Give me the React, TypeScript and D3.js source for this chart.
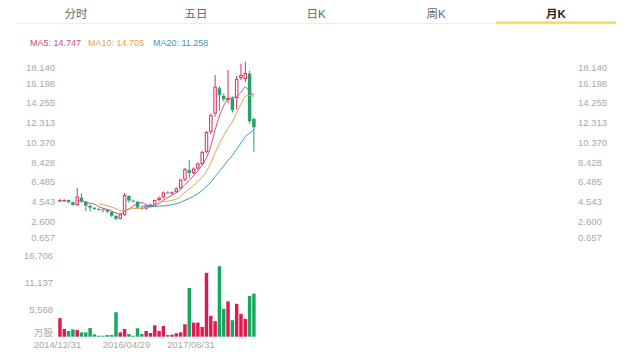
import React from 'react';
import * as d3 from 'd3';

const tabs = ['分时', '五日', '日K', '周K', '月K'];
const activeTab = 4;

const maPeriods = [5, 10, 20];
const maLabels = ['MA5: 14.747', 'MA10: 14.705', 'MA20: 11.258'];
const maColors = ['#c9507f', '#dfa64e', '#3f97c4'];

const opens = [4.62, 4.66, 4.70, 4.50, 4.20, 4.95, 4.55, 4.15, 3.95, 3.82, 3.80, 3.78, 3.55, 3.15, 2.85, 3.25, 5.10, 4.65, 4.55, 3.95, 3.85, 4.15, 4.25, 4.70, 4.95, 5.45, 5.38, 5.48, 5.85, 6.70, 7.65, 7.35, 7.80, 8.25, 9.45, 11.40, 13.20, 15.70, 14.95, 14.55, 14.70, 14.70, 16.70, 16.60, 17.15, 12.70];
const highs = [4.82, 4.78, 4.74, 4.55, 5.92, 5.37, 4.62, 4.25, 4.02, 3.90, 3.86, 3.82, 3.60, 3.25, 3.40, 5.40, 5.20, 4.75, 4.62, 4.10, 4.20, 4.35, 4.75, 5.05, 5.55, 5.55, 5.55, 5.95, 6.80, 7.85, 8.65, 7.90, 8.40, 9.55, 11.50, 13.20, 17.00, 15.90, 15.20, 17.50, 14.90, 16.90, 18.10, 18.30, 17.40, 12.80];
const lows = [4.55, 4.58, 4.40, 4.15, 4.12, 4.45, 3.60, 3.55, 3.75, 3.70, 3.50, 3.40, 3.05, 2.70, 2.80, 3.15, 4.45, 4.50, 3.85, 3.75, 3.75, 4.05, 4.15, 4.60, 4.85, 5.30, 5.30, 5.40, 5.75, 6.55, 6.85, 7.25, 7.70, 8.10, 9.30, 11.20, 12.90, 13.50, 14.40, 14.20, 13.30, 13.60, 16.50, 16.30, 12.20, 9.45];
const closes = [4.70, 4.72, 4.48, 4.22, 5.05, 4.55, 4.15, 3.95, 3.82, 3.80, 3.78, 3.55, 3.15, 2.85, 3.30, 5.20, 4.65, 4.60, 3.95, 3.85, 4.15, 4.25, 4.70, 4.95, 5.45, 5.38, 5.48, 5.85, 6.70, 7.75, 7.35, 7.80, 8.30, 9.45, 11.40, 13.05, 15.85, 15.00, 14.60, 14.75, 13.55, 16.60, 17.00, 17.20, 12.45, 11.85];
const volumes = [3780, 1580, 1170, 1510, 1370, 890, 890, 1790, 480, 200, 200, 340, 340, 5010, 890, 1580, 550, 200, 1720, 550, 1170, 760, 2330, 1170, 2200, 340, 410, 690, 890, 2540, 9960, 2880, 2880, 1990, 13050, 4260, 3160, 14420, 5700, 7210, 3370, 6730, 4670, 3640, 8310, 8790];

const priceTicks = [18.14, 16.198, 14.255, 12.313, 10.37, 8.428, 6.485, 4.543, 2.6, 0.657];
const volTicks = [16706, 11137, 5568, 0];
const volTickLabels = ['16,706', '11,137', '5,568', '万股'];
const dateIdx = [0, 16, 31];
const dateLabels = ['2014/12/31', '2016/04/29', '2017/08/31'];

const W = 640;
const H = 356;
const SLOTS = 120;
const UP = '#dd2a5a';
const DOWN = '#1fa463';
const FONT = '"Liberation Sans", Arial, "Noto Sans CJK SC", sans-serif';

export default function App() {
  const x = d3.scaleBand<number>().domain(d3.range(SLOTS)).range([57.8, 575]);
  const cx = (i: number) => (x(i) as number) + x.bandwidth() / 2;
  const bw = x.bandwidth() * 0.8;
  const y = d3.scaleLinear().domain([0.657, 18.14]).range([241.2, 63.4]);
  const yv = d3.scaleLinear().domain([0, 16706]).range([336.7, 255]);
  const tabX = d3.scaleBand<number>().domain(d3.range(tabs.length)).range([16, 616]);

  const maSeries = maPeriods.map((p) =>
    closes.map((_, i) => (i < p - 1 ? null : (d3.mean(closes.slice(i - p + 1, i + 1)) as number)))
  );
  const line = d3
    .line<number | null>()
    .defined((d) => d !== null)
    .x((_, i) => cx(i))
    .y((d) => y(d as number))
    .curve(d3.curveMonotoneX);

  const legendX = [30, 88, 153];

  return (
    <svg width={W} height={H} style={{ position: 'fixed', left: 0, top: 0, background: '#fff' }} fontFamily={FONT}>
      {tabs.map((t, i) => (
        <text
          key={t}
          x={(tabX(i) as number) + tabX.bandwidth() / 2}
          y={14}
          textAnchor="middle"
          dominantBaseline="central"
          fontSize={11.5}
          fontWeight={i === activeTab ? 700 : 400}
          fill={i === activeTab ? '#222' : '#666'}
        >
          {t}
        </text>
      ))}
      <line x1={16} x2={616} y1={23.5} y2={23.5} stroke="#eeeeee" strokeWidth={1} />
      <rect x={tabX(activeTab) as number} y={21.5} width={tabX.bandwidth()} height={2.2} fill="#f4d94e" />

      {maLabels.map((t, i) => (
        <text key={t} x={legendX[i]} y={42.5} dominantBaseline="central" fontSize={9} fill={maColors[i]}>
          {t}
        </text>
      ))}

      {priceTicks.map((v, i) => {
        const dy = i === 0 ? 4.3 : i === priceTicks.length - 1 ? -3.5 : 0;
        return (
          <g key={v}>
            <text x={55} y={y(v) + dy} textAnchor="end" dominantBaseline="central" fontSize={9.5} fill="#a8a8a8">
              {v.toFixed(3)}
            </text>
            <text x={578} y={y(v) + dy} textAnchor="start" dominantBaseline="central" fontSize={9.5} fill="#a8a8a8">
              {v.toFixed(3)}
            </text>
          </g>
        );
      })}

      {closes.map((c, i) => {
        const o = opens[i];
        const up = c >= o;
        const col = up ? UP : DOWN;
        const top = y(Math.max(o, c));
        const bot = y(Math.min(o, c));
        const h = Math.max(bot - top, 1);
        return (
          <g key={i}>
            <line x1={cx(i)} x2={cx(i)} y1={y(highs[i])} y2={top} stroke={col} strokeWidth={1} />
            <line x1={cx(i)} x2={cx(i)} y1={top + h} y2={y(lows[i])} stroke={col} strokeWidth={1} />
            {up ? (
              <rect x={cx(i) - bw / 2 + 0.5} y={top + 0.5} width={bw - 1} height={Math.max(h - 1, 0.5)} fill="#fff" stroke={col} strokeWidth={1} />
            ) : (
              <rect x={cx(i) - bw / 2} y={top} width={bw} height={h} fill={col} />
            )}
          </g>
        );
      })}

      {maSeries.map((s, k) => (
        <path key={k} d={line(s) || ''} fill="none" stroke={maColors[k]} strokeWidth={1} />
      ))}

      {volTicks.map((v, i) => {
        const dy = i === volTicks.length - 1 ? -4.3 : 0;
        return (
          <text key={v} x={53} y={yv(v) + dy} textAnchor="end" dominantBaseline="central" fontSize={9.5} fill="#a8a8a8">
            {volTickLabels[i]}
          </text>
        );
      })}

      {volumes.map((v, i) => {
        const up = closes[i] >= opens[i];
        return (
          <rect
            key={i}
            x={cx(i) - bw / 2}
            y={yv(v)}
            width={bw}
            height={Math.max(yv(0) - yv(v), 0.6)}
            fill={up ? '#e0194f' : '#18a75e'}
          />
        );
      })}

      {dateIdx.map((d, i) => (
        <text key={d} x={cx(d) - 2.5} y={344.5} textAnchor="middle" dominantBaseline="central" fontSize={9.5} fill="#a8a8a8">
          {dateLabels[i]}
        </text>
      ))}
    </svg>
  );
}
